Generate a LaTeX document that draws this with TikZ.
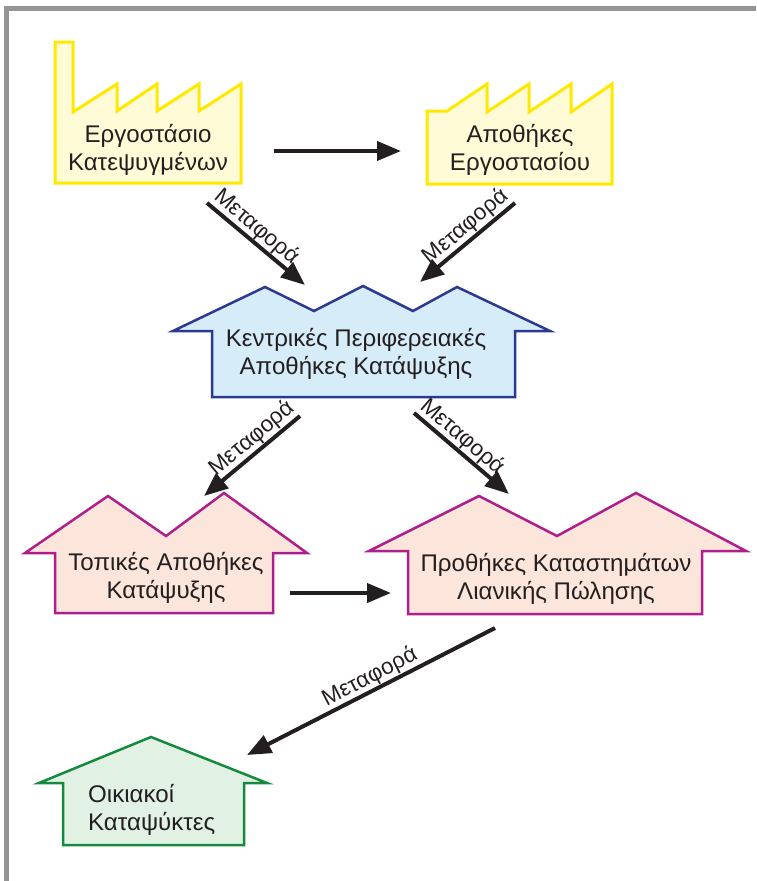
\documentclass[tikz,border=0pt]{standalone}
\usepackage{fontspec}
\setmainfont{Liberation Sans}
\usetikzlibrary{arrows.meta}
\definecolor{txt}{HTML}{231F20}
\definecolor{framegray}{HTML}{959595}
\definecolor{yline}{HTML}{FFE900}
\definecolor{yfill}{HTML}{FFFBD6}
\definecolor{bline}{HTML}{2B3990}
\definecolor{bfill}{HTML}{D6ECF9}
\definecolor{pline}{HTML}{B01E8E}
\definecolor{pfill}{HTML}{FCE5DA}
\definecolor{gline}{HTML}{15893D}
\definecolor{gfill}{HTML}{E1F2E5}
\begin{document}
\begin{tikzpicture}[x=1pt,y=-1pt,
  flow/.style={line width=4pt, draw=txt, -{Triangle[length=24pt,width=19pt]}},
  lbl/.style={font=\fontsize{22.5}{24}\selectfont, text=txt, sloped, above, inner sep=0.5pt},
  maintext/.style={font=\fontsize{24.1}{28}\selectfont, text=txt, align=center, inner sep=0pt},
  factory/.style={draw=yline, fill=yfill, line width=3pt, line join=miter},
  bluehouse/.style={draw=bline, fill=bfill, line width=2.5pt, line join=miter},
  pinkhouse/.style={draw=pline, fill=pfill, line width=2.5pt, line join=miter},
  greenhouse/.style={draw=gline, fill=gfill, line width=2.5pt, line join=miter}]
\useasboundingbox (0,0) rectangle (756,881);
% frame
\draw[framegray, line width=4.5pt] (6.5,881) -- (6.5,8.5) -- (756,8.5);
% shapes
\draw[factory] (55,42) -- (73,42) -- (73,112) -- (117,84) -- (117,111) -- (157,84) -- (157,111) -- (199,84) -- (199,111) -- (241,84) -- (241,183) -- (55,183) -- cycle;
\draw[factory] (427,111) -- (447,111) -- (487,84) -- (487,112) -- (529,84) -- (529,112) -- (571,84) -- (571,112) -- (612,84) -- (612,184) -- (427,184) -- cycle;
\draw[bluehouse] (173,331) -- (265,287) -- (314,311) -- (363,286) -- (413,311) -- (457,287) -- (550,331) -- (515,331) -- (515,397) -- (212,397) -- (212,331) -- cycle;
\draw[pinkhouse] (25,553) -- (108,496) -- (166,536) -- (224,493) -- (307,553) -- (273,553) -- (273,613) -- (55,613) -- (55,553) -- cycle;
\draw[pinkhouse] (369,551) -- (479,496) -- (557,536) -- (636,493) -- (746,551) -- (702,551) -- (702,614) -- (408,614) -- (408,551) -- cycle;
\draw[greenhouse] (39,783) -- (151,737) -- (267,783) -- (244,783) -- (244,845) -- (63,845) -- (63,783) -- cycle;
% texts
\node[maintext] (f1) at (148,150) {Εργοστάσιο\\Κατεψυγμένων};
\node[maintext] (f2) at (520,150) {Αποθήκες\\Εργοστασίου};
\node[maintext] (cw) at (356,354) {Κεντρικές Περιφερειακές\\Αποθήκες Κατάψυξης};
\node[maintext] (lw) at (166,578) {Τοπικές Αποθήκες\\Κατάψυξης};
\node[maintext] (rs) at (556,579) {Προθήκες Καταστημάτων\\Λιανικής Πώλησης};
\node[maintext, align=left, anchor=west] (hf) at (88,810) {Οικιακοί\\Καταψύκτες};
% connector end points
\coordinate (a1) at (274,151);  \coordinate (a2) at (401,151);
\coordinate (b1) at (290,593);  \coordinate (b2) at (391,593);
\coordinate (c1) at (207,203);  \coordinate (c2) at (305,285);
\coordinate (d1) at (515,203);  \coordinate (d2) at (420,282);
\coordinate (e1) at (300,416);  \coordinate (e2) at (204,496);
\coordinate (g1) at (414,413);  \coordinate (g2) at (509,494);
\coordinate (h1) at (495,628);  \coordinate (h2) at (247,755);
% connectors
\draw[flow] (a1) -- (a2);
\draw[flow] (b1) -- (b2);
\draw[flow] (c1) -- node[lbl, pos=0.42] (lc) {Μεταφορά} (c2);
\draw[flow] (d1) -- node[lbl, pos=0.43] (ld) {Μεταφορά} (d2);
\draw[flow] (e1) -- node[lbl, pos=0.41] (le) {Μεταφορά} (e2);
\draw[flow] (g1) -- node[lbl, pos=0.42] (lg) {Μεταφορά} (g2);
\draw[flow] (h1) -- node[lbl, pos=0.48] (lh) {Μεταφορά} (h2);
\end{tikzpicture}
\end{document}
